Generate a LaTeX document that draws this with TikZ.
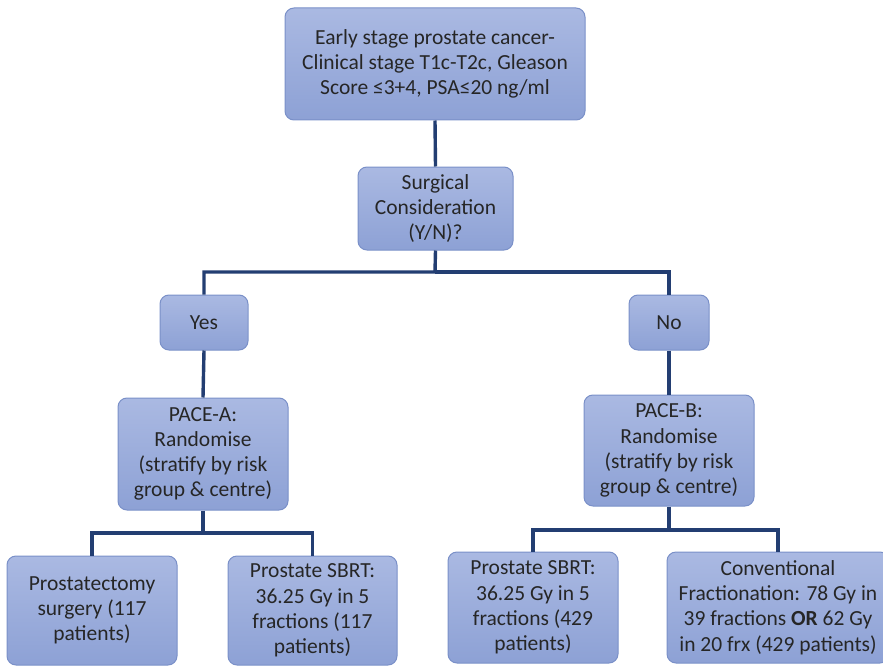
\documentclass[tikz,border=0pt]{standalone}
\usepackage{fontspec}
\setmainfont{Carlito}
\usetikzlibrary{positioning}
\definecolor{boxtop}{HTML}{AAB9E2}
\definecolor{boxbot}{HTML}{8DA1D5}
\definecolor{boxedge}{HTML}{7A90C8}
\definecolor{navy}{HTML}{233E72}

\begin{document}
\begin{tikzpicture}[x=1pt, y=-1pt,
  stage/.style={draw=boxedge, line width=1pt, rounded corners=9pt,
    top color=boxtop, bottom color=boxbot, text=black!85,
    align=center, inner sep=0pt,
    font=\fontsize{21.5}{25.2}\selectfont},
  link/.style={navy, line width=3.4pt}]
  \useasboundingbox (0,0) rectangle (883,666);
  % Eligibility and surgical question
  \node[stage, minimum width=300pt, minimum height=112pt] (elig) at (435,64)
    {Early stage prostate cancer-\\Clinical stage T1c-T2c, Gleason\\Score ≤3+4, PSA≤20 ng/ml};
  \node[stage, minimum width=155pt, minimum height=83pt] (surg) at (435.5,208.5)
    {Surgical\\Consideration\\(Y/N)?};
  % Yes / No
  \node[stage, minimum width=88pt, minimum height=55pt] (yes) at (204,322.5) {Yes};
  \node[stage, minimum width=80pt, minimum height=55pt] (no) at (669,322.5) {No};
  % Randomisation
  \node[stage, minimum width=170pt, minimum height=112pt] (paceA) at (203,454)
    {PACE-A:\\Randomise\\(stratify by risk\\group \& centre)};
  \node[stage, minimum width=170pt, minimum height=111pt] (paceB) at (669,450.5)
    {PACE-B:\\Randomise\\(stratify by risk\\group \& centre)};
  % Arms
  \node[stage, minimum width=170pt, minimum height=109pt] (surgA) at (92,610.5)
    {Prostatectomy\\surgery (117\\patients)};
  \node[stage, minimum width=169pt, minimum height=109pt] (sbrtA) at (312.5,610.5)
    {Prostate SBRT:\\36.25 Gy in 5\\fractions (117\\patients)};
  \node[stage, minimum width=170pt, minimum height=111pt] (sbrtB) at (533,607.5)
    {Prostate SBRT:\\36.25 Gy in 5\\fractions (429\\patients)};
  \node[stage, minimum width=222pt, minimum height=111pt] (conv) at (778,607.5)
    {Conventional\\Fractionation: 78 Gy in\\39 fractions \textbf{OR} 62 Gy\\in 20 frx (429 patients)};
  % Connectors
  \coordinate (splitT) at (435,272);
  \coordinate (splitA) at (203,533);
  \coordinate (splitB) at (669,530);
  \draw[link] (elig.south) -- (surg.north);
  \draw[link] (surg.south) -- (splitT) -| (yes.north);
  \draw[link] (splitT) -| (no.north);
  \draw[link] (yes.south) -- (paceA.north);
  \draw[link] (no.south) -- (paceB.north);
  \draw[link] (paceA.south) -- (splitA) -| (surgA.north);
  \draw[link] (splitA) -| (sbrtA.north);
  \draw[link] (paceB.south) -- (splitB) -| (sbrtB.north);
  \draw[link] (splitB) -| (conv.north);
\end{tikzpicture}
\end{document}
